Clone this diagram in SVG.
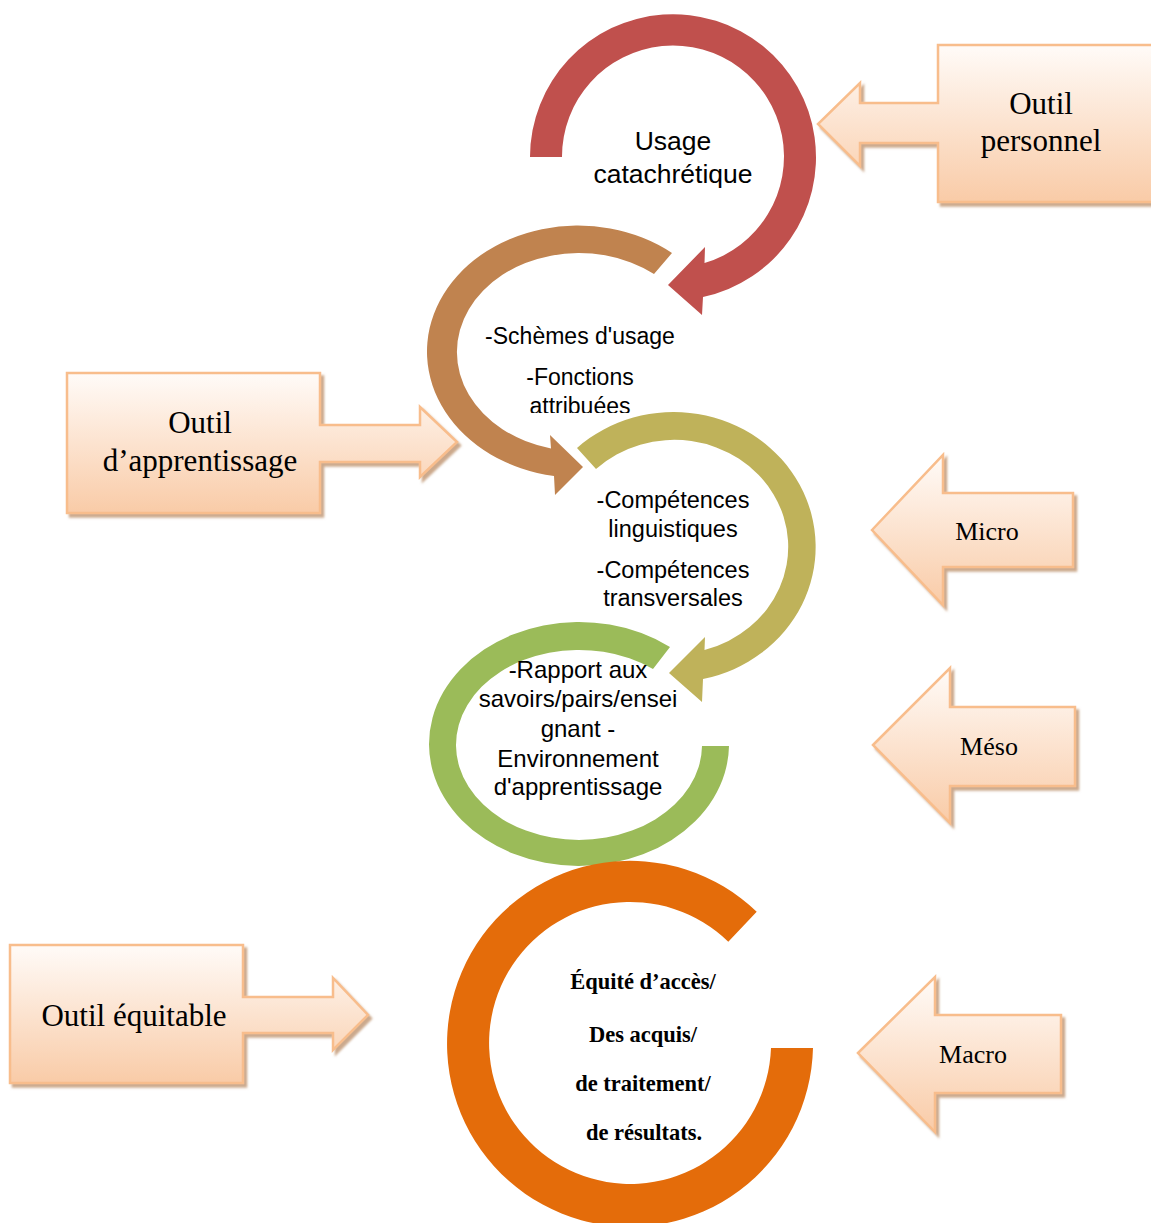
<svg xmlns="http://www.w3.org/2000/svg" width="1151" height="1223" viewBox="0 0 1151 1223">
<defs>
<linearGradient id="peach" x1="0" y1="0" x2="0" y2="1">
<stop offset="0" stop-color="#FFFBF8"/>
<stop offset="1" stop-color="#F9CBA7"/>
</linearGradient>
<filter id="shadow" x="-10%" y="-10%" width="130%" height="130%">
<feDropShadow dx="3" dy="3.5" stdDeviation="1.2" flood-color="#B07A50" flood-opacity="0.65"/>
</filter>
<clipPath id="clipBrown"><rect x="440" y="300" width="300" height="113"/></clipPath>
</defs>
<style>
.callout{fill:url(#peach);stroke:#F8BD8C;stroke-width:2.5;stroke-linejoin:miter;filter:url(#shadow)}
.ctext{font-family:"Liberation Serif","Times New Roman",serif;fill:#000;text-anchor:middle}
.big{font-size:31px}
.mid{font-size:26px}
.stext{font-family:"Liberation Sans",Arial,sans-serif;fill:#000;text-anchor:middle}
.otext{font-family:"Liberation Serif","Times New Roman",serif;font-weight:bold;font-size:22.5px;fill:#000;text-anchor:middle}
</style>

<g id="connectors"></g>

<g id="node-usage">
<path d="M 530 157 A 143 143 0 1 1 703 297 L 702 315 L 668 285 L 705 247 L 704.5 263 A 111 111 0 1 0 562 157 Z" fill="#C0504D"/>
<text class="stext" font-size="26.5" x="673" y="150">Usage</text>
<text class="stext" font-size="26.5" x="673" y="183">catachrétique</text>
</g>

<g id="node-schemes">
<path d="M 672 253 A 151 126 0 1 0 554 476 L 555 495 L 583 467 L 550 435 L 551 448.4 A 122 99 0 1 1 654 274 Z" fill="#C0834F"/>
<text class="stext" font-size="23" x="580" y="344">-Schèmes d'usage</text>
<text class="stext" font-size="23" x="580" y="385">-Fonctions</text>
<text class="stext" font-size="23" x="580" y="413.5" clip-path="url(#clipBrown)">attribuées</text>
</g>

<g id="node-competences">
<path d="M 577 448 A 142 135 0 1 1 703 679 L 702 702 L 669 673 L 705 637 L 704.5 650 A 114 107 0 1 0 596 469 Z" fill="#BFB25A"/>
<text class="stext" font-size="23.5" x="673" y="508">-Compétences</text>
<text class="stext" font-size="23.5" x="673" y="537">linguistiques</text>
<text class="stext" font-size="23.5" x="673" y="578">-Compétences</text>
<text class="stext" font-size="23.5" x="673" y="606">transversales</text>
</g>

<g id="node-rapport">
<path d="M 670 647 A 150 122 0 1 0 729 746 L 702 746 A 123 95 0 1 1 653 669 Z" fill="#9BBB59"/>
<text class="stext" font-size="24" x="578" y="678">-Rapport aux</text>
<text class="stext" font-size="24" x="578" y="707">savoirs/pairs/ensei</text>
<text class="stext" font-size="24" x="578" y="737">gnant -</text>
<text class="stext" font-size="24" x="578" y="767">Environnement</text>
<text class="stext" font-size="24" x="578" y="795">d'apprentissage</text>
</g>

<g id="node-equite">
<path d="M 756.7 911.7 A 183 183 0 1 0 813 1048 L 771 1048 A 141 141 0 1 1 728.3 941.7 Z" fill="#E46C0A"/>
<text class="otext" x="643" y="989">Équité d’accès/</text>
<text class="otext" x="643" y="1042">Des acquis/</text>
<text class="otext" x="643" y="1091">de traitement/</text>
<text class="otext" x="644" y="1140">de résultats.</text>
</g>

<g id="node-outil-personnel">
<path class="callout" d="M 938 45 L 1160 45 L 1160 202 L 938 202 L 938 143 L 860 143 L 860 166 L 818 124 L 860 83 L 860 103 L 938 103 Z"/>
<text class="ctext big" x="1041" y="114">Outil</text>
<text class="ctext big" x="1041" y="151">personnel</text>
</g>

<g id="node-outil-apprentissage">
<path class="callout" d="M 67 373 L 320 373 L 320 425 L 420 425 L 420 407 L 457 442 L 420 477 L 420 462 L 320 462 L 320 513 L 67 513 Z"/>
<text class="ctext big" x="200" y="433">Outil</text>
<text class="ctext big" x="200" y="471">d’apprentissage</text>
</g>

<g id="node-outil-equitable">
<path class="callout" d="M 10 945 L 243 945 L 243 997 L 333 997 L 333 978 L 368 1015 L 333 1050 L 333 1033 L 243 1033 L 243 1083 L 10 1083 Z"/>
<text class="ctext big" x="134" y="1026">Outil équitable</text>
</g>

<g id="node-micro">
<path class="callout" d="M 872 530 L 943 455 L 943 493 L 1073 493 L 1073 567 L 943 567 L 943 605 Z"/>
<text class="ctext mid" x="987" y="540">Micro</text>
</g>

<g id="node-meso">
<path class="callout" d="M 873 745 L 950 668 L 950 707 L 1075 707 L 1075 786 L 950 786 L 950 823 Z"/>
<text class="ctext mid" x="989" y="755">Méso</text>
</g>

<g id="node-macro">
<path class="callout" d="M 858 1053 L 935 977 L 935 1015 L 1061 1015 L 1061 1093 L 935 1093 L 935 1132 Z"/>
<text class="ctext mid" x="973" y="1063">Macro</text>
</g>
</svg>
